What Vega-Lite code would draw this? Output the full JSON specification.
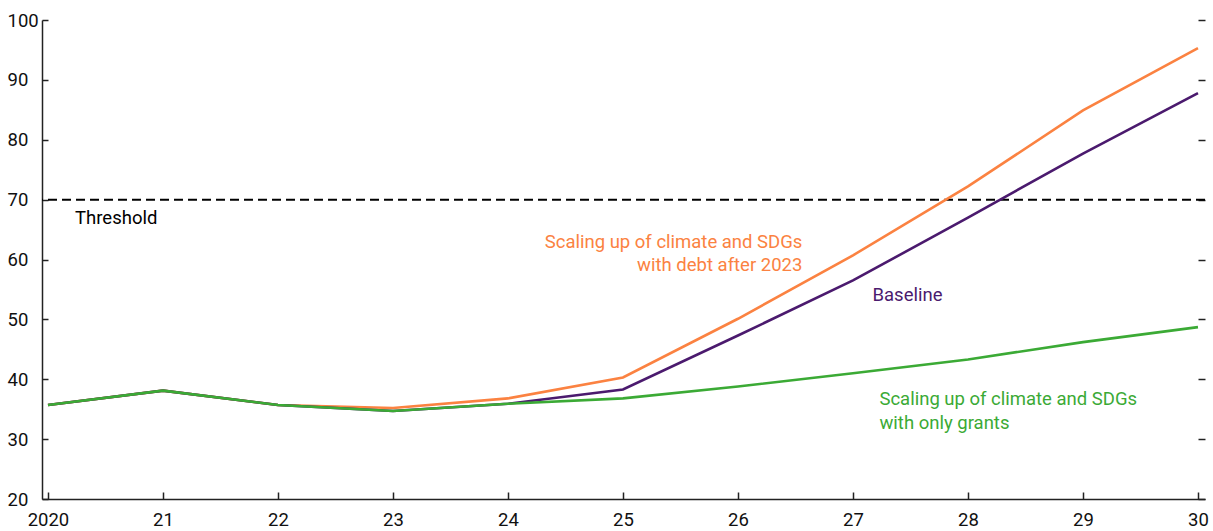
{
  "$schema": "https://vega.github.io/schema/vega-lite/v6.json",
  "width": 1163,
  "height": 479,
  "autosize": {"type": "none"},
  "padding": {"left": 42, "top": 20, "right": 8, "bottom": 32},
  "background": "white",
  "config": {
    "view": {"stroke": null},
    "font": "Roboto",
    "axis": {"grid": false, "labelFont": "Roboto", "labelFontSize": 18.5, "labelColor": "#111111", "domainColor": "#222222", "tickColor": "#222222", "domainWidth": 1.5, "tickWidth": 1.5}
  },
  "datasets": {
    "series": [
      {"year": 2020, "value": 35.7, "series": "Scaling up with debt"},
      {"year": 2021, "value": 38.1, "series": "Scaling up with debt"},
      {"year": 2022, "value": 35.7, "series": "Scaling up with debt"},
      {"year": 2023, "value": 35.2, "series": "Scaling up with debt"},
      {"year": 2024, "value": 36.8, "series": "Scaling up with debt"},
      {"year": 2025, "value": 40.3, "series": "Scaling up with debt"},
      {"year": 2026, "value": 50.1, "series": "Scaling up with debt"},
      {"year": 2027, "value": 60.7, "series": "Scaling up with debt"},
      {"year": 2028, "value": 72.2, "series": "Scaling up with debt"},
      {"year": 2029, "value": 84.9, "series": "Scaling up with debt"},
      {"year": 2030, "value": 95.3, "series": "Scaling up with debt"},
      {"year": 2020, "value": 35.7, "series": "Baseline"},
      {"year": 2021, "value": 38.1, "series": "Baseline"},
      {"year": 2022, "value": 35.7, "series": "Baseline"},
      {"year": 2023, "value": 34.7, "series": "Baseline"},
      {"year": 2024, "value": 35.9, "series": "Baseline"},
      {"year": 2025, "value": 38.3, "series": "Baseline"},
      {"year": 2026, "value": 47.3, "series": "Baseline"},
      {"year": 2027, "value": 56.5, "series": "Baseline"},
      {"year": 2028, "value": 67.0, "series": "Baseline"},
      {"year": 2029, "value": 77.7, "series": "Baseline"},
      {"year": 2030, "value": 87.8, "series": "Baseline"},
      {"year": 2020, "value": 35.7, "series": "Scaling up with only grants"},
      {"year": 2021, "value": 38.1, "series": "Scaling up with only grants"},
      {"year": 2022, "value": 35.7, "series": "Scaling up with only grants"},
      {"year": 2023, "value": 34.7, "series": "Scaling up with only grants"},
      {"year": 2024, "value": 35.9, "series": "Scaling up with only grants"},
      {"year": 2025, "value": 36.8, "series": "Scaling up with only grants"},
      {"year": 2026, "value": 38.8, "series": "Scaling up with only grants"},
      {"year": 2027, "value": 41.0, "series": "Scaling up with only grants"},
      {"year": 2028, "value": 43.3, "series": "Scaling up with only grants"},
      {"year": 2029, "value": 46.2, "series": "Scaling up with only grants"},
      {"year": 2030, "value": 48.7, "series": "Scaling up with only grants"}
    ],
    "threshold": [{"value": 70}],
    "labelsLeft": [
      {"year": 2020.235, "value": 66.9, "text": "Threshold", "series": "Threshold"},
      {"year": 2027.17, "value": 54.0, "text": "Baseline", "series": "Baseline"},
      {"year": 2027.23, "value": 36.7, "text": "Scaling up of climate and SDGs", "series": "Scaling up with only grants"},
      {"year": 2027.23, "value": 32.7, "text": "with only grants", "series": "Scaling up with only grants"}
    ],
    "labelsRight": [
      {"year": 2026.56, "value": 63.0, "text": "Scaling up of climate and SDGs", "series": "Scaling up with debt"},
      {"year": 2026.56, "value": 59.0, "text": "with debt after 2023", "series": "Scaling up with debt"}
    ]
  },
  "resolve": {"axis": {"y": "independent"}},
  "layer": [
    {
      "data": {"name": "threshold"},
      "mark": {"type": "rule", "color": "#000000", "strokeWidth": 2, "strokeDash": [9, 5]},
      "encoding": {
        "y": {"field": "value", "type": "quantitative", "scale": {"domain": [20, 100], "nice": false, "zero": false},
          "axis": {"orient": "right", "title": null, "labels": false, "domain": false, "values": [20, 30, 40, 50, 60, 70, 80, 90, 100], "tickSize": -7}}
      }
    },
    {
      "data": {"name": "series"},
      "mark": {"type": "line", "strokeWidth": 2.6},
      "encoding": {
        "x": {"field": "year", "type": "quantitative", "scale": {"domain": [2019.948, 2030.061], "nice": false, "zero": false},
          "axis": {"title": null, "values": [2020, 2021, 2022, 2023, 2024, 2025, 2026, 2027, 2028, 2029, 2030], "labelExpr": "datum.value == 2020 ? '2020' : substring(toString(datum.value), 2)", "tickSize": -7, "labelPadding": 18, "labelFlush": false}},
        "y": {"field": "value", "type": "quantitative", "scale": {"domain": [20, 100], "nice": false, "zero": false},
          "axis": {"title": null, "values": [20, 30, 40, 50, 60, 70, 80, 90, 100], "tickSize": -6, "labelPadding": 41, "labelAlign": "left", "labelFlush": false}},
        "color": {"field": "series", "type": "nominal", "legend": null,
          "scale": {"domain": ["Scaling up with debt", "Baseline", "Scaling up with only grants", "Threshold"], "range": ["#FB8241", "#4B1A6E", "#3BAA35", "#000000"]}},
        "order": {"field": "year", "type": "quantitative"}
      }
    },
    {
      "data": {"name": "labelsLeft"},
      "mark": {"type": "text", "align": "left", "baseline": "middle", "fontSize": 18.5, "font": "Roboto"},
      "encoding": {
        "x": {"field": "year", "type": "quantitative"},
        "y": {"field": "value", "type": "quantitative", "axis": null},
        "text": {"field": "text"},
        "color": {"field": "series", "type": "nominal", "legend": null}
      }
    },
    {
      "data": {"name": "labelsRight"},
      "mark": {"type": "text", "align": "right", "baseline": "middle", "fontSize": 18.5, "font": "Roboto"},
      "encoding": {
        "x": {"field": "year", "type": "quantitative"},
        "y": {"field": "value", "type": "quantitative", "axis": null},
        "text": {"field": "text"},
        "color": {"field": "series", "type": "nominal", "legend": null}
      }
    }
  ]
}
